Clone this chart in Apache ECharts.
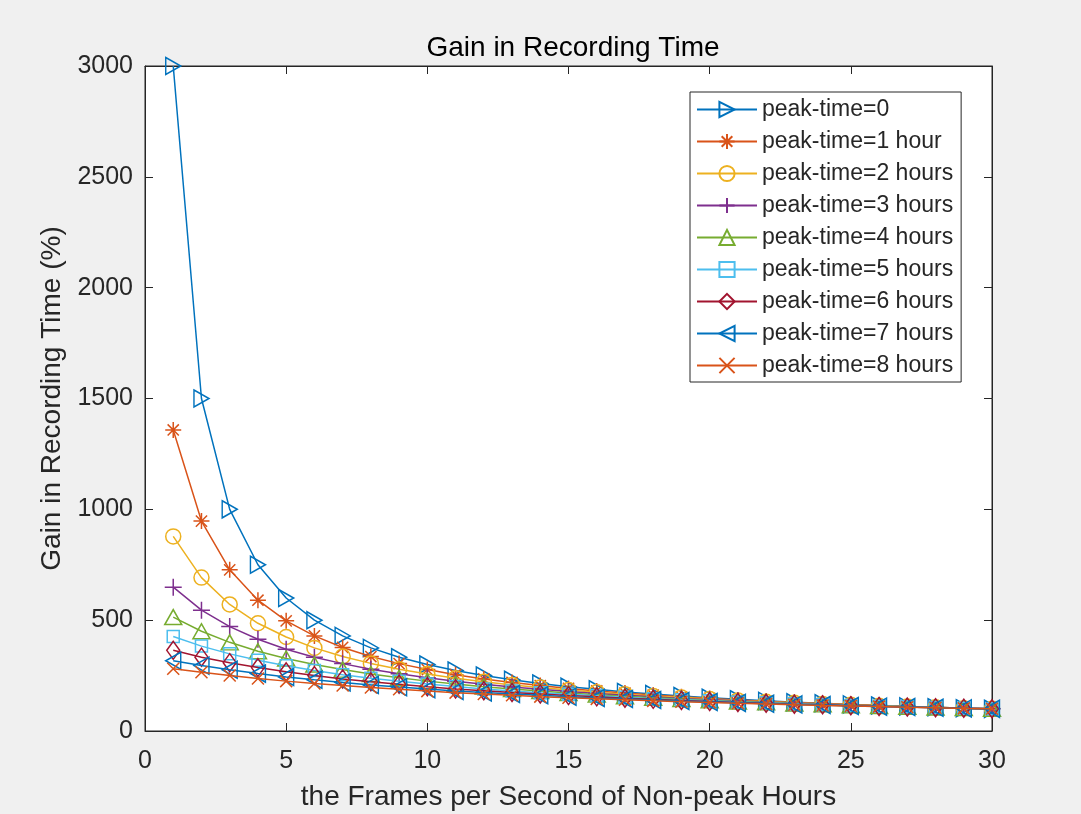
<!DOCTYPE html>
<html>
<head>
<meta charset="utf-8">
<script src="https://cdn.jsdelivr.net/npm/echarts@6/dist/echarts.min.js"></script>
<style>
html,body{margin:0;padding:0;background:#f0f0f0;}
#c{width:1081px;height:814px;}
</style>
</head>
<body>
<div id="c"></div>
<script>
const xValues = [1,2,3,4,5,6,7,8,9,10,11,12,13,14,15,16,17,18,19,20,21,22,23,24,25,26,27,28,29,30];
const xTicks = {min: 0, max: 30, interval: 5};
const yTicks = {min: 0, max: 3000, interval: 500};
const seriesNames = ['peak-time=0','peak-time=1 hour','peak-time=2 hours','peak-time=3 hours','peak-time=4 hours','peak-time=5 hours','peak-time=6 hours','peak-time=7 hours','peak-time=8 hours'];
const s0 = [3000,1500,1000,750,600,500,429,375,333,300,273,250,231,214,200,188,176,167,158,150,143,136,130,125,120,115,111,107,103,100];
const s1 = [1358,947,727,590,497,429,377,336,304,277,254,235,219,205,192,181,171,162,154,147,140,134,129,124,119,115,111,107,103,100];
const s2 = [878,692,571,486,424,375,336,305,279,257,238,222,208,196,185,175,166,158,151,144,138,132,127,122,118,114,110,107,103,100];
const s3 = [649,545,471,414,369,333,304,279,258,240,224,211,198,188,178,169,161,154,147,141,136,130,126,121,117,113,110,106,103,100];
const s4 = [514,450,400,360,327,300,277,257,240,225,212,200,189,180,171,164,157,150,144,138,133,129,124,120,116,113,109,106,103,100];
const s5 = [426,383,348,319,294,273,254,238,224,212,201,190,181,173,166,159,152,146,141,136,131,127,123,119,115,112,109,106,103,100];
const s6 = [364,333,308,286,267,250,235,222,211,200,190,182,174,167,160,154,148,143,138,133,129,125,121,118,114,111,108,105,103,100];
const s7 = [317,295,276,259,244,231,219,208,198,189,181,174,167,161,155,149,144,140,135,131,127,123,120,117,113,110,108,105,102,100];
const s8 = [281,265,250,237,225,214,205,196,188,180,173,167,161,155,150,145,141,136,132,129,125,122,118,115,113,110,107,105,102,100];
const allSeries = [s0,s1,s2,s3,s4,s5,s6,s7,s8];

const colors = ['#0072BD','#D95319','#EDB120','#7E2F8E','#77AC30','#4DBEEE','#A2142F','#0072BD','#D95319'];
const symbols = [
  {symbol:'path://M0,0L1,0.5L0,1Z', size:[15,17]},
  {symbol:'path://M0,-1L0,1M-1,0L1,0M-0.7,-0.7L0.7,0.7M-0.7,0.7L0.7,-0.7', size:16},
  {symbol:'circle', size:15},
  {symbol:'path://M0,-1L0,1M-1,0L1,0', size:17},
  {symbol:'path://M0.5,0L1,1L0,1Z', size:[17,15]},
  {symbol:'rect', size:12},
  {symbol:'path://M0.5,0L1,0.5L0.5,1L0,0.5Z', size:[13,18]},
  {symbol:'path://M1,0L0,0.5L1,1Z', size:[15,17]},
  {symbol:'path://M-1,-1L1,1M-1,1L1,-1', size:12}
];
const axisColor = '#262626';
const fontFam = '"Liberation Sans", Arial, sans-serif';

const chart = echarts.init(document.getElementById('c'), null, {renderer:'canvas'});
const series = allSeries.map((vals, i) => ({
  name: seriesNames[i],
  type: 'line',
  data: xValues.map((x, j) => [x, vals[j]]),
  symbol: symbols[i].symbol,
  symbolSize: symbols[i].size,
  showSymbol: true,
  lineStyle: {color: colors[i], width: 1.5},
  itemStyle: {color: 'rgba(255,255,255,0)', borderColor: colors[i], borderWidth: 1.5},
  emphasis: {disabled: true},
  z: 2 + i
}));

const baseAxis = {
  axisLine: {show: true, onZero: false, lineStyle: {color: axisColor, width: 1}},
  axisTick: {show: true, inside: true, length: 8, lineStyle: {color: axisColor}},
  splitLine: {show: false}
};

chart.setOption({
  animation: false,
  backgroundColor: '#f0f0f0',
  color: colors,
  title: {
    text: 'Gain in Recording Time',
    left: 568, top: 29, textAlign: 'center',
    textStyle: {fontFamily: fontFam, fontSize: 28, fontWeight: 'normal', color: '#000'}
  },
  grid: {left: 145, right: 89, top: 66, bottom: 83, show: true, backgroundColor: '#fff', borderColor: axisColor, borderWidth: 1, outerBoundsMode: 'none', containLabel: false},
  legend: {
    orient: 'vertical', left: 690, top: 92,
    padding: [6, 8, 5, 6], itemGap: 9, itemWidth: 60, itemHeight: 19,
    backgroundColor: '#fff', borderColor: axisColor, borderWidth: 1,
    textStyle: {fontFamily: fontFam, fontSize: 23, color: axisColor},
    data: seriesNames
  },
  xAxis: [
    Object.assign({}, baseAxis, {
      type: 'value', position: 'bottom', min: xTicks.min, max: xTicks.max, interval: xTicks.interval,
      name: 'the Frames per Second of Non-peak Hours', nameLocation: 'middle', nameGap: 52,
      nameTextStyle: {fontFamily: fontFam, fontSize: 28, color: axisColor},
      axisLabel: {margin: 18, fontFamily: fontFam, fontSize: 25, color: axisColor, formatter: v => String(v)}
    }),
    Object.assign({}, baseAxis, {
      type: 'value', position: 'top', min: xTicks.min, max: xTicks.max, interval: xTicks.interval,
      axisLabel: {show: false}
    })
  ],
  yAxis: [
    Object.assign({}, baseAxis, {
      type: 'value', position: 'left', min: yTicks.min, max: yTicks.max, interval: yTicks.interval,
      name: 'Gain in Recording Time (%)', nameLocation: 'middle', nameGap: 74,
      nameTextStyle: {fontFamily: fontFam, fontSize: 28, color: axisColor},
      axisLabel: {margin: 12, fontFamily: fontFam, fontSize: 25, color: axisColor, formatter: v => String(v)}
    }),
    Object.assign({}, baseAxis, {
      type: 'value', position: 'right', min: yTicks.min, max: yTicks.max, interval: yTicks.interval,
      axisLabel: {show: false}
    })
  ],
  series: series
});
</script>
</body>
</html>
